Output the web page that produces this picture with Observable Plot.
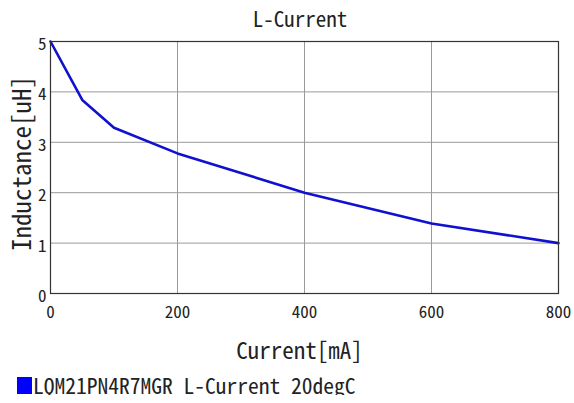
<!DOCTYPE html>
<html><head><meta charset="utf-8">
<script src="https://cdn.jsdelivr.net/npm/d3@7"></script>
<script src="https://cdn.jsdelivr.net/npm/@observablehq/plot@0.6"></script>
<style>
body{margin:0;background:#fff;font-family:"Noto Sans Mono CJK JP","Liberation Mono",monospace;color:#222;width:574px;overflow:hidden;}
#title{height:30px;line-height:36px;text-align:center;font-size:21px;padding-left:26px;}
#chart svg{display:block;overflow:visible;}
#legend{margin-top:15px;height:20px;display:flex;align-items:center;font-size:21.5px;padding-left:17px;line-height:20px;}
#legend .sw{display:inline-block;width:15px;height:17px;background:#0000ff;margin-right:1px;}
</style></head><body>
<div id="title">L-Current</div>
<div id="chart"></div>
<div id="legend"><span class="sw"></span><span>LQM21PN4R7MGR L-Current 20degC</span></div>
<script>
const currents = [0, 50, 100, 200, 400, 600, 800];
const inductance = [5.0, 3.84, 3.29, 2.78, 2.0, 1.39, 1.0];
const xTicks = [0, 200, 400, 600, 800];
const yTicks = [0, 1, 2, 3, 4, 5];
const xLabel = "Current[mA]";
const yLabel = "Inductance[uH]";
const lineColor = "#1010d0";

const data = currents.map((c, i) => ({current: c, L: inductance[i]}));
const font = '"Noto Sans Mono CJK JP","Liberation Mono",monospace';

const chart = Plot.plot({
  width: 574, height: 330,
  marginTop: 11, marginLeft: 50, marginRight: 16, marginBottom: 67,
  style: {fontFamily: font, background: "white", color: "#222", overflow: "visible"},
  x: {domain: [0, 800]},
  y: {domain: [0, 5]},
  marks: [
    Plot.gridX(xTicks, {stroke: "#999", strokeOpacity: 1}),
    Plot.gridY(yTicks, {stroke: "#999", strokeOpacity: 1}),
    Plot.axisX(xTicks, {tickSize: 0, tickPadding: 12, fontSize: 17, label: null, tickFormat: d => String(d)}),
    Plot.axisY(yTicks, {tickSize: 0, tickPadding: 4, dy: 3, fontSize: 17, label: null, tickFormat: d => String(d)}),
    Plot.line(data, {x: "current", y: "L", stroke: lineColor, strokeWidth: 2.6}),
    Plot.frame({stroke: "#333", strokeWidth: 1.2}),
    Plot.text([xLabel], {text: d => d, frameAnchor: "bottom", dy: 65, dx: -5, fontSize: 23, fill: "#222"}),
    Plot.text([yLabel], {text: d => d, frameAnchor: "left", textAnchor: "middle", dx: -28, dy: -4, rotate: -90, fontSize: 25, fill: "#222"})
  ]
});
document.getElementById("chart").appendChild(chart);
</script>
</body></html>
